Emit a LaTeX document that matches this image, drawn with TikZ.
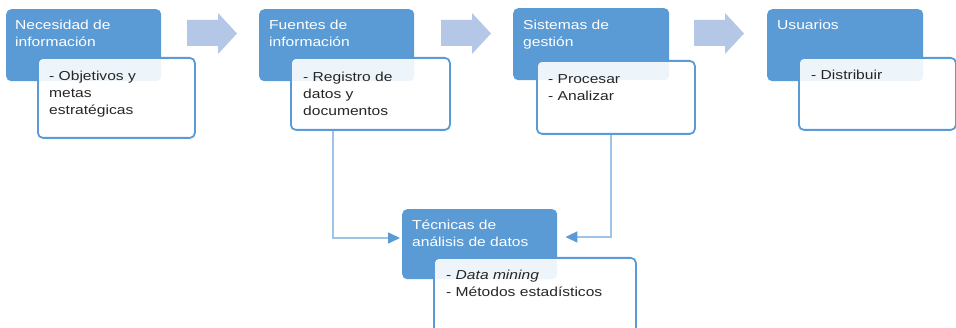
\documentclass[tikz,border=0pt]{standalone}
\usepackage{fontspec}
\setmainfont[FakeStretch=1.2]{Liberation Sans}
\usetikzlibrary{arrows.meta}
\definecolor{accblue}{HTML}{5B9BD5}
\definecolor{arrfill}{HTML}{B4C7E7}
\definecolor{connline}{HTML}{9DC3E6}
\definecolor{txtdark}{HTML}{262626}
\tikzset{
  bluebox/.style={draw=none, fill=accblue, rounded corners=5pt, anchor=north west, inner sep=0pt},
  whitebox/.style={draw=accblue, line width=1.8pt, fill=white, fill opacity=0.9, rounded corners=5pt, anchor=north west, inner sep=0pt},
  headtext/.style={anchor=base west, inner sep=0pt, text=white, font=\fontsize{13}{17}\selectfont},
  bodytext/.style={anchor=base west, inner sep=0pt, text=txtdark, font=\fontsize{13}{17}\selectfont},
  bigarrow/.style={fill=arrfill, draw=none},
  conn/.style={draw=connline, line width=1.6pt, -{Triangle[length=12pt,width=11pt,color=accblue]}}
}
\newcommand{\boxlines}[1]{\parbox[t]{220pt}{\raggedright #1}}
\begin{document}
\begin{tikzpicture}[x=1pt,y=-1pt]
\useasboundingbox (0,0) rectangle (956,328);
\fill[white] (0,0) rectangle (956,328);

% block arrows
\foreach \xa/\xh/\xb in {187/218/237, 441/472/491, 694/725/744}{
  \path[bigarrow] (\xa,20) -- (\xh,20) -- (\xh,13) -- (\xb,33.5) -- (\xh,54) -- (\xh,46) -- (\xa,46) -- cycle;
}

% boxes
\node[bluebox, minimum width=155pt, minimum height=72pt] (b1) at (6,9) {};
\node[whitebox, minimum width=157pt, minimum height=80pt] (w1) at (37,57) {};

\node[bluebox, minimum width=155pt, minimum height=72pt] (b2) at (259,9) {};
\node[whitebox, minimum width=159pt, minimum height=72pt] (w2) at (290,57) {};

\node[bluebox, minimum width=156pt, minimum height=72pt] (b3) at (513,8) {};
\node[whitebox, minimum width=158pt, minimum height=73pt] (w3) at (536,60) {};

\node[bluebox, minimum width=156pt, minimum height=72pt] (b4) at (767,9) {};
\node[whitebox, minimum width=157pt, minimum height=72pt] (w4) at (798,57) {};

\node[bluebox, minimum width=155pt, minimum height=70pt] (b5) at (402,209) {};
\node[whitebox, minimum width=202pt, minimum height=76pt] (w5) at (433,257) {};

% texts
\node[headtext] (t1) at (15,30) {\boxlines{Necesidad de\\información}};
\node[bodytext] (s1) at (49,81) {\boxlines{- Objetivos y\\metas\\estratégicas}};
\node[headtext] (t2) at (269,30) {\boxlines{Fuentes de\\información}};
\node[bodytext] (s2) at (303,82) {\boxlines{- Registro de\\datos y\\documentos}};
\node[headtext] (t3) at (523,30) {\boxlines{Sistemas de\\gestión}};
\node[bodytext] (s3) at (548,84) {\boxlines{- Procesar\\- Analizar}};
\node[headtext] (t4) at (777,30) {\boxlines{Usuarios}};
\node[bodytext] (s4) at (811,80) {\boxlines{- Distribuir}};
\node[headtext] (t5) at (412,230) {\boxlines{Técnicas de\\análisis de datos}};
\node[bodytext] (s5) at (446,280) {\boxlines{- \textit{Data mining}\\- Métodos estadísticos}};

% connectors
\coordinate (c1) at (333,238);
\coordinate (c2) at (611,237);
\draw[conn, shorten >=2pt] (w2.south -| c1) |- (b5.west |- c1);
\draw[conn, shorten >=8pt] (w3.south -| c2) |- (b5.east |- c2);
\end{tikzpicture}
\end{document}
